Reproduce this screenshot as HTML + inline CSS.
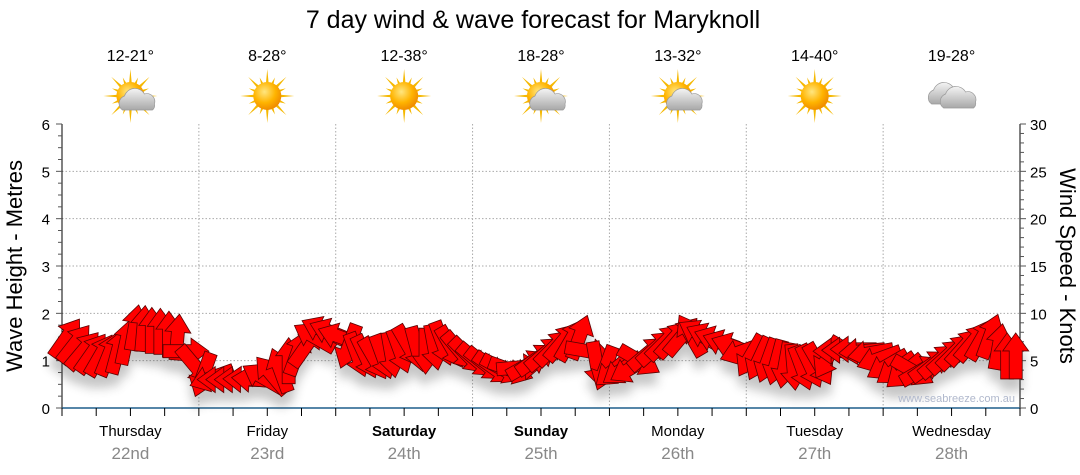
<!DOCTYPE html>
<html><head><meta charset="utf-8"><style>
body{margin:0;background:#fff;font-family:"Liberation Sans",sans-serif;}
svg{display:block}
</style></head><body>
<svg width="1080" height="475" xmlns="http://www.w3.org/2000/svg">
<defs>
<filter id="sh" x="-50%" y="-50%" width="200%" height="200%"><feGaussianBlur stdDeviation="5"/></filter>
<radialGradient id="sun" cx="40%" cy="35%" r="65%"><stop offset="0" stop-color="#ffe680"/><stop offset="0.6" stop-color="#ffb400"/><stop offset="1" stop-color="#f08c00"/></radialGradient>
<linearGradient id="cl" x1="0" y1="0" x2="0" y2="1"><stop offset="0" stop-color="#f4f4f4"/><stop offset="1" stop-color="#a8a8a8"/></linearGradient>
</defs>
<text x="533" y="28" font-size="25" text-anchor="middle" fill="#000">7 day wind &amp; wave forecast for Maryknoll</text>
<g id="hdr"></g>
<g id="grid"></g>
<g id="axes"></g>
<g id="shadows" filter="url(#sh)" opacity="0.3"></g>
<g id="arrows"></g>
<text x="1015" y="402" font-size="11" text-anchor="end" fill="#b0b8cc">www.seabreeze.com.au</text>
<text transform="translate(22,266) rotate(-90)" font-size="22" text-anchor="middle" fill="#000">Wave Height - Metres</text>
<text transform="translate(1060,266) rotate(90)" font-size="22" text-anchor="middle" fill="#000">Wind Speed - Knots</text>
</svg>
<script>
const days=["Thursday","Friday","Saturday","Sunday","Monday","Tuesday","Wednesday"];
const dates=["22nd","23rd","24th","25th","26th","27th","28th"];
const temps=["12-21°","8-28°","12-38°","18-28°","13-32°","14-40°","19-28°"];
const icons=["partly","sun","sun","partly","partly","sun","cloud"];
const waveTicks=[0,1,2,3,4,5,6];
const windTicks=[0,5,10,15,20,25,30];
const windSpeed=[7.4,6.8,6.1,5.8,5.6,5.7,6,7,8.5,8.4,8.2,8.1,7.8,7.5,6,4.5,
3.5,3.2,3,3,3,3,3,3.2,3.5,4,5,5.8,6.5,7.5,8.2,8,
7.5,6.5,5.6,5.4,5.2,5.4,5.6,6,6.5,6.2,6,6.4,6.8,6.4,6,5.5,
5,4.6,4.2,4.1,4,4.3,4.6,5.2,5.8,6.4,7,7.2,7.5,6,4.6,4.2,
4,4.1,4.2,5,5.8,6.4,7,7.3,7.6,7.7,7.8,7.5,7.2,6.8,6.5,6,
5.5,5.2,5,4.8,4.5,4.3,4.2,4.4,4.6,5.3,6,6.1,6.2,6,5.8,5.2,
4.5,4.1,3.8,3.9,4,4.5,5,5.5,6,6.5,7,7.3,7.6,6.5,5.5,5.5];
const windDir=[35,38,40,35,30,22,15,12,10,5,0,0,0,5,90,140,
200,250,270,270,270,272,275,300,320,340,0,20,35,300,295,292,
290,200,160,155,150,160,170,160,150,165,180,170,160,150,140,135,
130,128,125,118,110,85,60,55,50,45,40,30,20,100,170,200,
230,235,240,120,50,48,45,42,40,330,300,295,290,290,290,250,
210,205,200,195,190,175,160,155,150,210,270,270,270,265,260,250,
240,235,230,120,60,55,50,48,45,42,40,30,20,10,0,0];
const NS="http://www.w3.org/2000/svg";
const X0=62,X1=1020,Y0=408,Y1=124;
const dayW=(X1-X0)/7;
const xT=t=>X0+t*dayW;
const yW=m=>Y0-(m/6)*(Y0-Y1);
const yK=k=>Y0-(k/30)*(Y0-Y1);
function mk(tag,attrs,parent,txt){const e=document.createElementNS(NS,tag);for(const k in attrs)e.setAttribute(k,attrs[k]);if(txt!==undefined)e.textContent=txt;parent.appendChild(e);return e;}
const hdr=document.getElementById('hdr'),grid=document.getElementById('grid'),axes=document.getElementById('axes');
waveTicks.forEach(v=>{if(v>0&&v<6){const l=mk('line',{x1:X0,x2:X1,y1:yW(v),y2:yW(v),stroke:'#aaa','stroke-dasharray':'1.5,2'},grid);

}});
for(let d=1;d<7;d++){const l=mk('line',{x1:xT(d),x2:xT(d),y1:Y1,y2:Y0,stroke:'#aaa','stroke-dasharray':'1.5,2'},grid);

}
mk('line',{x1:X0,x2:X0,y1:Y1,y2:Y0,stroke:'#000'},axes);
for(let i=0;i<=24;i++){const y=yW(i/4);mk('line',{x1:X0-(i%4?4:6),x2:X0,y1:y,y2:y,stroke:'#555'},axes);}
waveTicks.forEach(v=>{const t=mk('text',{x:X0-12,y:yW(v)+6,'font-size':15,'text-anchor':'end',fill:'#000'},axes,v);

});
mk('line',{x1:X1,x2:X1,y1:Y1,y2:Y0,stroke:'#000'},axes);
for(let i=0;i<=30;i++){const y=yK(i);mk('line',{x1:X1,x2:X1+(i%5?4:6),y1:y,y2:y,stroke:'#555'},axes);}
windTicks.forEach(v=>{const t=mk('text',{x:X1+10,y:yK(v)+6,'font-size':15,fill:'#000'},axes,v);

});
mk('line',{x1:X0,x2:X1,y1:Y0,y2:Y0,stroke:'#1f5f8b','stroke-width':1.5},axes);
for(let i=0;i<=28;i++){const x=xT(i/4);mk('line',{x1:x,x2:x,y1:Y0,y2:Y0+8,stroke:'#000'},axes);}
days.forEach((d,i)=>{const cx=xT(i+0.5);
const t=mk('text',{x:cx,y:436,'font-size':15,'text-anchor':'middle',fill:'#000','font-weight':(i==2||i==3)?'bold':'normal'},axes,d);


const t2=mk('text',{x:cx,y:459,'font-size':17,'text-anchor':'middle',fill:'#888'},axes,dates[i]);


const t3=mk('text',{x:cx,y:61,'font-size':16,'text-anchor':'middle',fill:'#000'},hdr,temps[i]);


const g=mk('g',{transform:`translate(${cx},96)`},hdr);


if(icons[i]!=='cloud'){
 for(let k=0;k<16;k++){const a=k*22.5*Math.PI/180,r=k%2?20:27;
  mk('polygon',{points:`${Math.sin(a-0.12)*12},${-Math.cos(a-0.12)*12} ${Math.sin(a)*r},${-Math.cos(a)*r} ${Math.sin(a+0.12)*12},${-Math.cos(a+0.12)*12}`,fill:'#f5b800'},g);}
 mk('circle',{cx:0,cy:0,r:14,fill:'url(#sun)'},g);
}
if(icons[i]!=='sun'){
 const ox=icons[i]==='cloud'?-4:8, oy=icons[i]==='cloud'?-2:4;
 mk('path',{d:`M${ox-16},${oy+10} a8,8 0 0 1 2,-14 a11,11 0 0 1 20,-2 a8,8 0 0 1 10,10 a6,6 0 0 1 -2,6 z`,fill:'url(#cl)',stroke:'#999','stroke-width':0.7},g);
 if(icons[i]==='cloud') mk('path',{d:`M${ox-4},${oy+14} a8,8 0 0 1 2,-14 a11,11 0 0 1 20,-2 a8,8 0 0 1 10,10 a6,6 0 0 1 -2,6 z`,fill:'url(#cl)',stroke:'#999','stroke-width':0.7},g);
}
});
const ag=document.getElementById('arrows'),sg=document.getElementById('shadows');
const shape="M0,-23 L13,-5 L6.5,-5 L6.5,23 L-6.5,23 L-6.5,-5 L-13,-5 Z";
const n=windSpeed.length;
windSpeed.forEach((s,i)=>{const x=xT((i+0.5)*7/n), y=yK(s), d=windDir[i];
 mk('path',{d:shape,transform:`translate(${x},${y+12}) rotate(${d})`,fill:'#444'},sg);
 const a=mk('path',{d:shape,transform:`translate(${x},${y}) rotate(${d})`,fill:'#ff0000',stroke:'#5a0000','stroke-width':0.8},ag);
 
 
});
</script>
</body></html>
